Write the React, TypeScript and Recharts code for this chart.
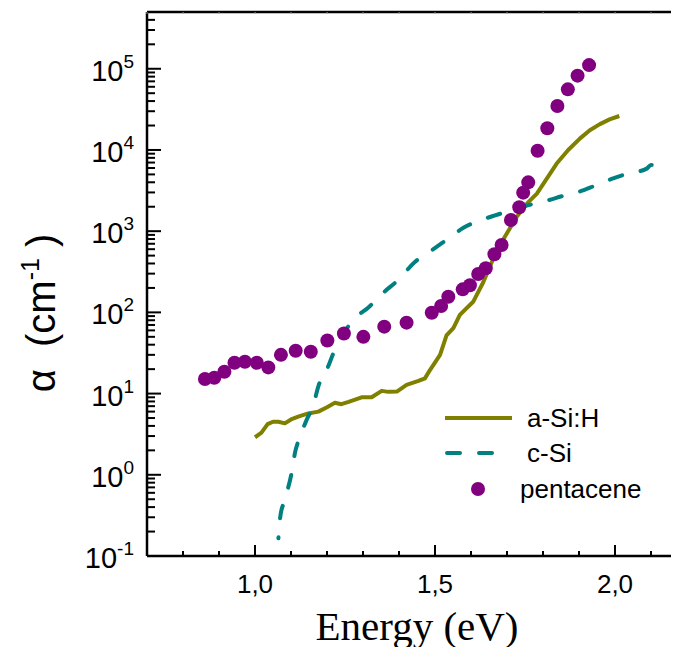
import React from 'react';
import { ComposedChart, Line, Scatter, XAxis, YAxis, Legend } from 'recharts';

// ---- data ----
const aSiE = [1.000, 1.018, 1.035, 1.050, 1.065, 1.083, 1.100, 1.120, 1.148, 1.176, 1.200, 1.222, 1.240, 1.260, 1.296, 1.324, 1.352, 1.370, 1.394, 1.421, 1.454, 1.472, 1.486, 1.514, 1.532, 1.551, 1.569, 1.606, 1.634, 1.662, 1.694, 1.727, 1.760, 1.783, 1.838, 1.870, 1.903, 1.930, 1.958, 1.985, 2.012];
const aSiAlpha = [2.9, 3.3, 4.2, 4.5, 4.5, 4.3, 4.8, 5.2, 5.7, 6.0, 6.8, 7.7, 7.4, 7.9, 9.0, 9.0, 10.8, 10.5, 10.6, 12.8, 14.3, 15.4, 19.5, 30, 52, 64, 93, 135, 235, 460, 855, 1500, 2300, 2900, 6800, 10000, 13900, 17500, 20800, 23800, 26200];

const cSiE = [1.065, 1.070, 1.078, 1.088, 1.102, 1.111, 1.125, 1.143, 1.162, 1.176, 1.199, 1.218, 1.241, 1.260, 1.278, 1.315, 1.356, 1.398, 1.444, 1.486, 1.537, 1.579, 1.630, 1.671, 1.710, 1.760, 1.810, 1.852, 1.903, 1.944, 1.995, 2.037, 2.088, 2.100, 2.130];
const cSiAlpha = [0.165, 0.30, 0.43, 0.60, 1.07, 1.86, 2.95, 4.7, 7.2, 12.3, 19.5, 31.6, 52.5, 68, 85, 115, 174, 251, 417, 562, 813, 1100, 1380, 1585, 1800, 2090, 2370, 2690, 3090, 3630, 4470, 5130, 5890, 6530, 6310];

const pentE = [0.861, 0.887, 0.915, 0.943, 0.972, 1.005, 1.037, 1.072, 1.113, 1.155, 1.201, 1.247, 1.301, 1.359, 1.421, 1.491, 1.517, 1.537, 1.577, 1.597, 1.620, 1.641, 1.665, 1.685, 1.711, 1.734, 1.745, 1.759, 1.785, 1.812, 1.840, 1.869, 1.896, 1.928];
const pentAlpha = [15.1, 15.7, 18.6, 24, 24.7, 24, 21, 30, 33.7, 32.8, 45, 55, 50, 66.7, 74.7, 99, 120, 156, 192, 216, 297, 349, 520, 677, 1375, 1968, 2980, 3990, 9770, 18500, 34800, 55800, 82200, 111000];

const seriesNames = ['a-Si:H', 'c-Si', 'pentacene'];

const xTicks = [0.7, 0.8, 0.9, 1.0, 1.1, 1.2, 1.3, 1.4, 1.5, 1.6, 1.7, 1.8, 1.9, 2.0, 2.1, 2.2];
const xMajorTicks = [1.0, 1.5, 2.0];
const xMajorLabels = ['1,0', '1,5', '2,0'];
const yMajorTicks = [0.1, 1, 10, 100, 1000, 10000, 100000];
const yMajorExps = ['-1', '0', '1', '2', '3', '4', '5'];
const yMinorMult = [2, 3, 4, 5, 6, 7, 8, 9];

const aSiData = aSiE.map((E, i) => ({ E, alpha: aSiAlpha[i] }));
const cSiData = cSiE.map((E, i) => ({ E, alpha: cSiAlpha[i] }));
const pentData = pentE.map((E, i) => ({ E, alpha: pentAlpha[i] }));

const yTicks: number[] = [];
yMajorTicks.forEach((m) => {
  yTicks.push(m);
  if (m < 100000) yMinorMult.forEach((k) => yTicks.push(m * k));
});
[2, 3, 4].forEach((k) => yTicks.push(100000 * k));

const SANS = '"Liberation Sans", Arial, Helvetica, sans-serif';
const SERIF = '"Liberation Serif", "Times New Roman", serif';
const OLIVE = '#808000';
const TEAL = '#008080';
const PURPLE = '#800080';

const YTick = (props: any) => {
  const { x, y, payload } = props;
  const v = payload.value;
  const idx = yMajorTicks.findIndex((m) => Math.abs(m - v) / m < 1e-6);
  const major = idx >= 0;
  return (
    <g>
      <line x1={x} x2={x + (major ? 14 : 8)} y1={y} y2={y} stroke="#000" strokeWidth={2} />
      {major && (
        <text x={x - 13} y={y + 12} textAnchor="end" fontSize={29} fontFamily={SANS} fill="#000">
          10
          <tspan dy={-13} fontSize={19}>{yMajorExps[idx]}</tspan>
        </text>
      )}
    </g>
  );
};

const XTick = (props: any) => {
  const { x, y, payload } = props;
  const v = payload.value;
  const idx = xMajorTicks.findIndex((m) => Math.abs(m - v) < 1e-6);
  const major = idx >= 0;
  return (
    <g>
      <line x1={x} x2={x} y1={y} y2={y - (major ? 11 : 5)} stroke="#000" strokeWidth={2} />
      {major && (
        <text x={x} y={y + 37} textAnchor="middle" fontSize={26} fontFamily={SANS} fill="#000">
          {xMajorLabels[idx]}
        </text>
      )}
    </g>
  );
};

const TopTick = (props: any) => {
  const { x, y } = props;
  return <line x1={x} x2={x} y1={y} y2={y + 2} stroke="#999" strokeWidth={1} />;
};

const XLabel = (props: any) => {
  const { viewBox } = props;
  const cx = viewBox.x + viewBox.width / 2;
  return (
    <text x={cx} y={viewBox.y + 84} textAnchor="middle" fontSize={41} fontFamily={SERIF} fill="#000">
      Energy (eV)
    </text>
  );
};

const YLabel = (props: any) => {
  const { viewBox } = props;
  const x = 47;
  const y = viewBox.y + viewBox.height / 2 + 29;
  return (
    <text
      x={x}
      y={y}
      transform={`rotate(-90, ${x}, ${y})`}
      textAnchor="middle"
      fontSize={40}
      fontFamily={SANS}
      fill="#000"
      style={{ whiteSpace: 'pre' }}
    >
      {'\u03b1\u00a0\u00a0(cm'}
      <tspan dy={-16} fontSize={25}>-1</tspan>
      <tspan dy={16}>{'\u00a0)'}</tspan>
    </text>
  );
};

const renderLegend = (props: any) => {
  const payload = props.payload || [];
  const rows = [23, 58, 94];
  return (
    <svg width={250} height={115} style={{ display: 'block' }}>
      {payload.map((entry: any, i: number) => {
        const cy = rows[i];
        let icon;
        if (entry.type === 'circle') {
          icon = <circle cx={48} cy={cy} r={7} fill={entry.color} />;
        } else if (entry.type === 'plainline') {
          icon = (
            <line x1={17} x2={66} y1={cy} y2={cy} stroke={entry.color} strokeWidth={4}
              strokeDasharray="13 19" strokeLinecap="round" />
          );
        } else {
          icon = <line x1={15} x2={82} y1={cy} y2={cy} stroke={entry.color} strokeWidth={4} />;
        }
        return (
          <g key={i}>
            {icon}
            <text x={entry.type === 'circle' ? 90 : 97} y={cy + 9} fontSize={26} fontFamily={SANS} fill="#000">
              {entry.value}
            </text>
          </g>
        );
      })}
    </svg>
  );
};

export default function App() {
  return (
    <div style={{ width: 671, height: 639, overflow: 'clip', position: 'relative' }}>
      <style>{'html,body{overflow:hidden;}'}</style>
      <ComposedChart width={700} height={639} margin={{ top: 3, right: 21, bottom: 61, left: 0 }}>
        <XAxis
          xAxisId="bottom"
          dataKey="E"
          type="number"
          domain={[0.7, 2.2]}
          ticks={xTicks}
          interval={0}
          tickSize={0}
          tickMargin={0}
          tick={<XTick />}
          tickLine={false}
          axisLine={{ stroke: '#000', strokeWidth: 2.5 }}
          height={30}
          allowDataOverflow
          label={<XLabel />}
        />
        <XAxis
          xAxisId="top"
          orientation="top"
          dataKey="E"
          type="number"
          domain={[0.7, 2.2]}
          ticks={xTicks}
          interval={0}
          tickSize={0}
          tickMargin={0}
          tick={<TopTick />}
          tickLine={false}
          axisLine={{ stroke: '#000', strokeWidth: 2.5 }}
          height={1}
          allowDataOverflow
        />
        <YAxis
          yAxisId="left"
          type="number"
          scale="log"
          domain={[0.1, 500000]}
          ticks={yTicks}
          interval={0}
          tickSize={0}
          tickMargin={0}
          tick={<YTick />}
          tickLine={false}
          axisLine={{ stroke: '#000', strokeWidth: 2.5 }}
          width={139}
          allowDataOverflow
          label={<YLabel />}
        />
        <Legend
          content={renderLegend}
          layout="horizontal"
          verticalAlign="middle"
          align="center"
          wrapperStyle={{ left: 422, top: 387, width: 250, height: 115 }}
        />
        <Line
          xAxisId="bottom"
          yAxisId="left"
          data={aSiData}
          dataKey="alpha"
          name={seriesNames[0]}
          type="linear"
          stroke={OLIVE}
          strokeWidth={4}
          strokeLinejoin="round"
          dot={false}
          activeDot={false}
          legendType="line"
          isAnimationActive={false}
        />
        <Line
          xAxisId="bottom"
          yAxisId="left"
          data={cSiData}
          dataKey="alpha"
          name={seriesNames[1]}
          type="monotone"
          stroke={TEAL}
          strokeWidth={4}
          strokeDasharray="13 19"
          strokeDashoffset={12}
          strokeLinecap="round"
          dot={false}
          activeDot={false}
          legendType="plainline"
          isAnimationActive={false}
        />
        <Scatter
          xAxisId="bottom"
          yAxisId="left"
          data={pentData}
          dataKey="alpha"
          name={seriesNames[2]}
          fill={PURPLE}
          legendType="circle"
          shape={(p: any) => <circle cx={p.cx} cy={p.cy} r={7} fill={PURPLE} />}
          isAnimationActive={false}
        />
      </ComposedChart>
    </div>
  );
}
